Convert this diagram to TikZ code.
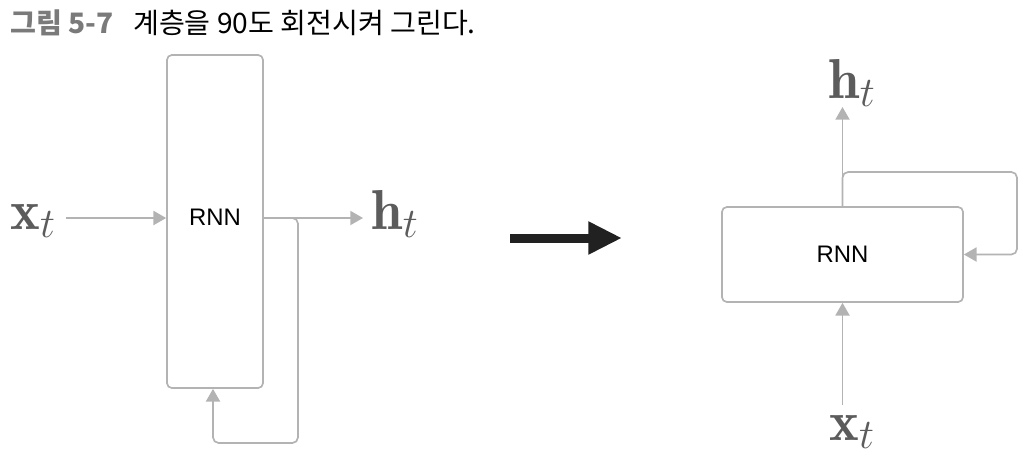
\RequirePackage{fix-cm}
\documentclass[tikz,border=0pt]{standalone}
\usepackage{amsmath}
\usepackage{fontspec}
\setsansfont{Liberation Sans}
\newfontfamily\krfont{Noto Sans CJK KR}
\usetikzlibrary{arrows.meta}
\DeclareMathSizes{40}{40}{30}{24}
\definecolor{linegray}{HTML}{B3B3B3}
\definecolor{labelgray}{HTML}{5C5C5C}
\definecolor{titlegray}{HTML}{7A7A7A}

\begin{document}
\begin{tikzpicture}[x=0.025cm,y=-0.025cm,
  flow/.style={draw=linegray,line width=1.2pt,-{Triangle[length=9pt,width=10pt]}},
  rnnbox/.style={draw=linegray,line width=1.2pt,rounded corners=3.5pt,inner sep=0pt,font=\sffamily\fontsize{17}{18}\selectfont},
  vec/.style={anchor=base,inner sep=0pt,text=labelgray,font=\fontsize{40}{42}\selectfont}]
  \useasboundingbox (0,0) rectangle (1032,462);
  \node[anchor=base west,inner sep=0pt,font=\krfont\fontsize{20}{24}\selectfont] (title) at (10,33)
    {\textcolor{titlegray}{\bfseries 그림 5-7}\hspace{14pt}계층을 90도 회전시켜 그린다.};

  \node[rnnbox,minimum width=2.4cm,minimum height=8.325cm,text depth=5.7pt] (rnnL) at (215,221.5) {RNN};
  \node[vec] (xL) at (33,229) {$\mathbf{x}_t$};
  \node[vec] (hL) at (395,229) {$\mathbf{h}_t$};
  \coordinate (inL) at (66,218);
  \coordinate (outL) at (363,218);
  \coordinate (loopL) at (213,443);
  \draw[flow] (inL) -- (rnnL.west |- inL);
  \draw[flow] (rnnL.east |- inL) -- (outL);
  \draw[flow,rounded corners=4pt] (rnnL.east |- inL) -- (298,218) -- (298,443) -- (loopL) -- (loopL |- rnnL.south);

  \coordinate (bigS) at (510,238);
  \coordinate (bigE) at (622,238);
  \draw[line width=6.4pt,color=black!87,-{Triangle[length=24pt,width=22pt]}] (bigS) -- (bigE);

  \node[rnnbox,minimum width=6.025cm,minimum height=2.375cm] (rnnR) at (842.5,254.5) {RNN};
  \node[vec] (hR) at (852,98) {$\mathbf{h}_t$};
  \node[vec] (xR) at (852,440) {$\mathbf{x}_t$};
  \coordinate (outR) at (842.5,107);
  \coordinate (inR) at (842.5,405);
  \draw[flow] (rnnR.north) -- (outR);
  \draw[flow] (inR) -- (rnnR.south);
  \draw[flow,rounded corners=4pt] (rnnR.north) -- (842.5,172) -- (1017,172) -- (1017,254.5) -- (rnnR.east);
\end{tikzpicture}
\end{document}
